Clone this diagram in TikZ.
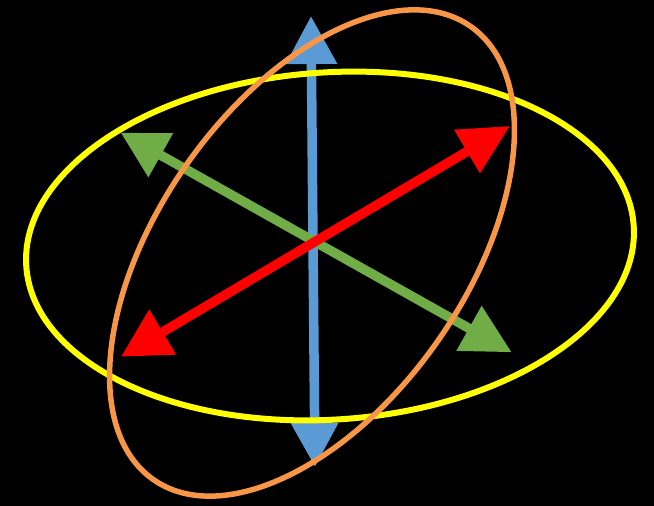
\documentclass[tikz,border=0pt]{standalone}
\usetikzlibrary{arrows.meta}
\definecolor{bluearrow}{HTML}{5B9BD5}
\definecolor{greenarrow}{HTML}{70AD47}
\definecolor{redarrow}{HTML}{FF0000}
\definecolor{orangering}{HTML}{F79646}
\definecolor{yellowring}{HTML}{FFFF00}
\begin{document}
\begin{tikzpicture}[x=1pt,y=-1pt,
  ring/.style={line width=6pt},
  axisarrow/.style={line width=9.5pt}]
\fill[black] (0,0) rectangle (654,506);
\useasboundingbox (0,0) rectangle (654,506);
% coordinates
\coordinate (btop) at (311,16);
\coordinate (bbot) at (315,467);
\coordinate (gtl) at (120.7,132.7);
\coordinate (gbr) at (511.7,352.3);
\coordinate (rtr) at (510,126);
\coordinate (rbl) at (121,356.7);
\coordinate (yc) at (330,246);
\coordinate (oc) at (312,253);
% blue axis
\draw[axisarrow,bluearrow,{Triangle[width=49pt,length=48pt]}-{Triangle[width=45pt,length=44pt]}] (btop) -- (bbot);
% yellow ring
\draw[ring,yellowring,rotate around={3.8:(yc)}] (yc) ellipse [x radius=304.4pt, y radius=173.6pt];
% green axis
\draw[axisarrow,greenarrow,{Triangle[width=48pt,length=46pt]}-{Triangle[width=49pt,length=49pt]}] (gtl) -- (gbr);
% red axis
\draw[axisarrow,redarrow,{Triangle[width=48pt,length=50pt]}-{Triangle[width=50pt,length=48.5pt]}] (rtr) -- (rbl);
% orange ring
\draw[ring,orangering,line width=5.5pt,rotate around={55:(oc)}] (oc) ellipse [x radius=276.6pt, y radius=153.5pt];
\end{tikzpicture}
\end{document}
